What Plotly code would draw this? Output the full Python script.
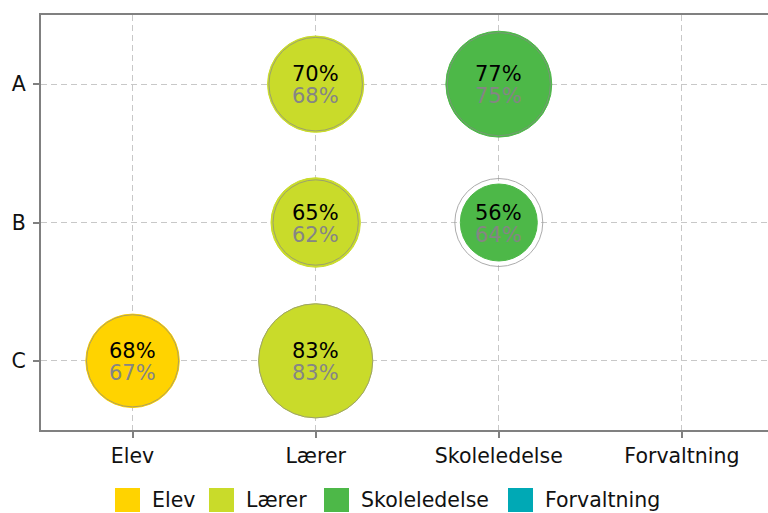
import plotly.graph_objects as go

# ---- data ----
roles = ["Elev", "Lærer", "Skoleledelse", "Forvaltning"]
rows = ["A", "B", "C"]
role_colors = ["#FFD300", "#C9DB2A", "#4DB848", "#00A9B5"]

pt_role = ["Lærer", "Skoleledelse", "Lærer", "Skoleledelse", "Elev", "Lærer"]
pt_row = ["A", "A", "B", "B", "C", "C"]
current = [70, 77, 65, 56, 68, 83]
previous = [68, 75, 62, 64, 67, 83]

SCALE = 1.375  # px diameter per percent point
FONT = "DejaVu Sans"

fig = go.Figure()

# filled bubbles per role
for role, col in zip(roles, role_colors):
    idx = [i for i, r in enumerate(pt_role) if r == role]
    fig.add_trace(go.Scatter(
        x=[pt_role[i] for i in idx], y=[pt_row[i] for i in idx],
        mode="markers", name=role, showlegend=False, hoverinfo="skip",
        marker=dict(size=[current[i] * SCALE for i in idx], sizemode="diameter",
                    color=col, opacity=1, line=dict(color=col, width=1)),
    ))

# outline bubbles (previous)
fig.add_trace(go.Scatter(
    x=pt_role, y=pt_row, mode="markers", showlegend=False, hoverinfo="skip",
    marker=dict(size=[v * SCALE for v in previous], sizemode="diameter",
                color="rgba(0,0,0,0)", line=dict(color="#8a8a8a", width=1)),
))

annotations = []
for r, w, c, p in zip(pt_role, pt_row, current, previous):
    annotations.append(dict(x=r, y=w, text=f"{c}%", showarrow=False, yshift=10,
                            height=20, valign="middle",
                            font=dict(family=FONT, size=21, color="#000000")))
    annotations.append(dict(x=r, y=w, text=f"{p}%", showarrow=False, yshift=-12,
                            height=20, valign="middle",
                            font=dict(family=FONT, size=21, color="#858585")))

# manual legend
W, H = 768, 513
L, R, T, B = 41, 0, 15, 83
pw, ph = W - L - R, H - T - B
def px2x(px):
    return (px - L) / pw
def py2y(py):
    return (H - B - py) / ph

legend_sq_x = [115, 209, 324, 508]
shapes = []
for sx, col, role in zip(legend_sq_x, role_colors, roles):
    shapes.append(dict(type="rect", xref="paper", yref="paper",
                       x0=px2x(sx), x1=px2x(sx + 25), y0=py2y(512), y1=py2y(488),
                       fillcolor=col, line=dict(width=0)))
    annotations.append(dict(xref="paper", yref="paper", x=px2x(sx + 35), y=py2y(500),
                            xanchor="left", yanchor="middle", text=role, showarrow=False,
                            font=dict(family=FONT, size=20.5, color="#111111")))

grid = dict(showgrid=True, gridcolor="#c8c8c8", griddash="6px,4px", gridwidth=1.3,
            zeroline=False, showline=True, linecolor="#808080", linewidth=2,
            ticks="outside", ticklen=6, tickcolor="#808080", tickwidth=2,
            automargin=False, tickfont=dict(family=FONT, size=20.5, color="#111111"))

fig.update_layout(
    width=W, height=H,
    margin=dict(l=L, r=R, t=T, b=B),
    paper_bgcolor="white", plot_bgcolor="white",
    font=dict(family=FONT, size=20.5, color="#111111"),
    showlegend=False,
    annotations=annotations, shapes=shapes,
    xaxis=dict(type="category", categoryorder="array", categoryarray=roles,
               range=[-0.5, 3.47], mirror=True, **grid),
    yaxis=dict(type="category", categoryorder="array", categoryarray=rows,
               range=[2.5, -0.5], ticklabelstandoff=3, **grid),
)

fig.write_html("out.html", config={"displayModeBar": False},
               post_script="document.body.style.margin='0';")
